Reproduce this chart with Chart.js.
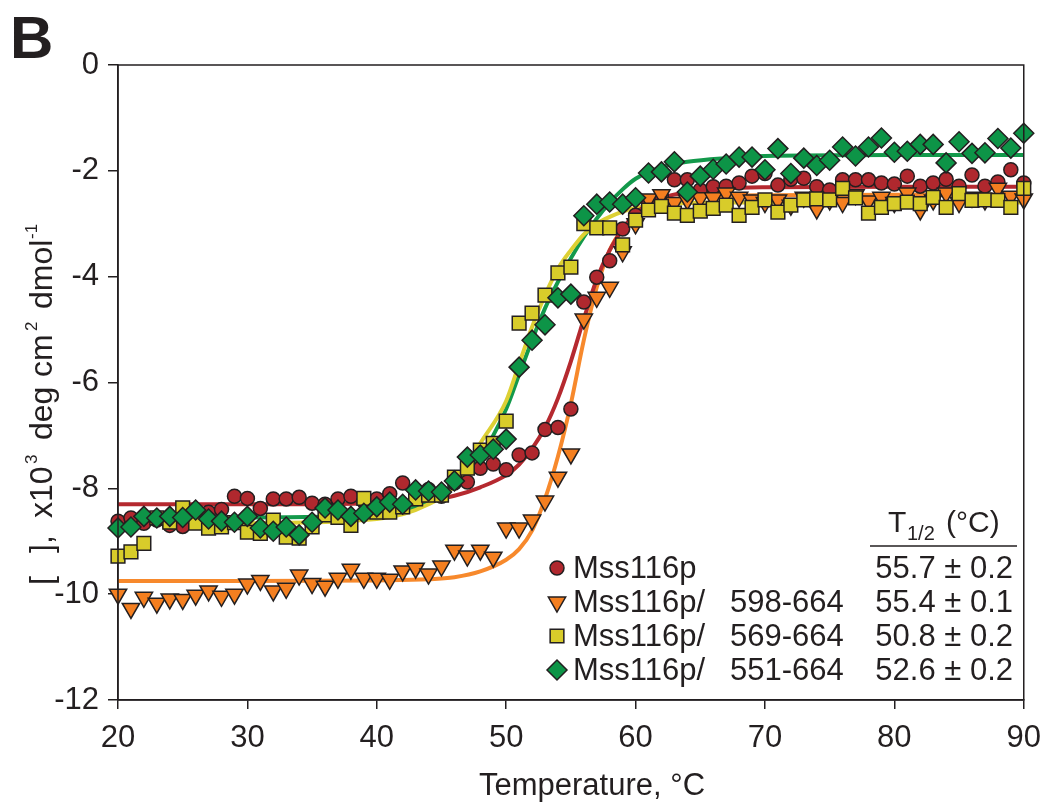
<!DOCTYPE html>
<html>
<head>
<meta charset="utf-8">
<script src="https://cdn.jsdelivr.net/npm/chart.js@4.4.1/dist/chart.umd.min.js"></script>
<style>
html, body { margin: 0; padding: 0; background: #fff; }
#wrap { width: 1052px; height: 804px; }
</style>
</head>
<body>
<div id="wrap"><canvas id="cd-chart" width="1052" height="804"></canvas></div>
<script>
// temperatures, one reading per degree
const temps = [
    20, 21, 22, 23, 24, 25, 26, 27, 28, 29,
    30, 31, 32, 33, 34, 35, 36, 37, 38, 39,
    40, 41, 42, 43, 44, 45, 46, 47, 48, 49,
    50, 51, 52, 53, 54, 55, 56, 57, 58, 59,
    60, 61, 62, 63, 64, 65, 66, 67, 68, 69,
    70, 71, 72, 73, 74, 75, 76, 77, 78, 79,
    80, 81, 82, 83, 84, 85, 86, 87, 88, 89,
    90
];

const mssFull = [
    -8.62, -8.56, -8.66, -8.60, -8.70, -8.72, -8.55, -8.45, -8.40, -8.15,
    -8.19, -8.38, -8.20, -8.20, -8.17, -8.28, -8.30, -8.20, -8.15, -8.25,
    -8.20, -8.10, -7.90, -8.05, -8.02, -8.15, -7.90, -7.88, -7.62, -7.54,
    -7.65, -7.37, -7.33, -6.89, -6.85, -6.50, -4.48, -4.01, -3.70, -3.10,
    -2.84, -2.60, -2.49, -2.17, -2.17, -2.36, -2.30, -2.29, -2.23, -2.10,
    -2.05, -2.27, -2.16, -2.14, -2.30, -2.36, -2.17, -2.17, -2.17, -2.23,
    -2.25, -2.10, -2.29, -2.23, -2.16, -2.29, -2.08, -2.29, -2.21, -1.98,
    -2.23
];

const mss598 = [
    -10.00, -10.27, -10.06, -10.17, -10.09, -10.10, -10.02, -9.94, -10.04, -10.00,
    -9.81, -9.74, -9.94, -9.89, -9.64, -9.80, -9.85, -9.70, -9.53, -9.70,
    -9.70, -9.72, -9.56, -9.51, -9.62, -9.47, -9.17, -9.28, -9.17, -9.30,
    -8.75, -8.75, -8.60, -8.24, -7.79, -7.35, -4.80, -4.39, -4.20, -3.53,
    -3.00, -2.53, -2.45, -2.60, -2.55, -2.51, -2.51, -2.42, -2.50, -2.55,
    -2.60, -2.55, -2.65, -2.50, -2.72, -2.55, -2.60, -2.45, -2.57, -2.50,
    -2.60, -2.42, -2.74, -2.55, -2.42, -2.60, -2.50, -2.55, -2.33, -2.48,
    -2.53
];

const mss569 = [
    -9.28, -9.20, -9.04, -8.56, -8.64, -8.37, -8.66, -8.75, -8.73, -8.65,
    -8.83, -8.85, -8.60, -8.92, -8.94, -8.73, -8.50, -8.55, -8.70, -8.19,
    -8.45, -8.45, -8.35, -8.20, -8.13, -8.13, -7.79, -7.62, -7.28, -7.15,
    -6.73, -4.88, -4.69, -4.35, -3.93, -3.82, -3.00, -3.08, -3.08, -3.40,
    -2.93, -2.74, -2.67, -2.80, -2.84, -2.76, -2.71, -2.65, -2.84, -2.69,
    -2.55, -2.78, -2.65, -2.55, -2.53, -2.55, -2.33, -2.51, -2.80, -2.69,
    -2.62, -2.59, -2.62, -2.50, -2.69, -2.43, -2.56, -2.55, -2.56, -2.69,
    -2.33
];

const mss551 = [
    -8.75, -8.73, -8.53, -8.56, -8.53, -8.55, -8.41, -8.58, -8.62, -8.64,
    -8.53, -8.75, -8.81, -8.73, -8.88, -8.64, -8.37, -8.41, -8.53, -8.47,
    -8.35, -8.26, -8.30, -8.03, -8.05, -8.07, -7.86, -7.41, -7.37, -7.26,
    -7.07, -5.71, -5.20, -4.91, -4.40, -4.33, -2.85, -2.63, -2.59, -2.63,
    -2.51, -2.04, -2.02, -1.83, -2.40, -2.10, -1.97, -1.87, -1.74, -1.74,
    -1.98, -1.58, -2.05, -1.76, -1.90, -1.80, -1.55, -1.72, -1.55, -1.38,
    -1.65, -1.63, -1.50, -1.50, -1.85, -1.45, -1.67, -1.66, -1.39, -1.57,
    -1.29
];

// fitted curves
const fitTemps = [20, 30, 40, 44, 46, 48, 50, 51, 52, 53, 54, 55, 56, 57, 58, 59, 60, 62, 64, 67, 70, 80, 90];
const fitFull = [-8.30, -8.30, -8.28, -8.22, -8.14, -7.98, -7.75, -7.55, -7.25, -6.85, -6.30, -5.60, -4.80, -4.05, -3.50, -3.10, -2.80, -2.52, -2.40, -2.33, -2.31, -2.30, -2.30];
const fit598 = [-9.75, -9.75, -9.74, -9.72, -9.68, -9.57, -9.35, -9.15, -8.80, -8.20, -7.40, -6.40, -5.20, -4.20, -3.50, -3.10, -2.85, -2.60, -2.50, -2.47, -2.46, -2.45, -2.45];
const fit569 = [-8.68, -8.66, -8.58, -8.30, -7.95, -7.15, -6.35, -5.65, -4.95, -4.35, -3.85, -3.50, -3.20, -3.00, -2.87, -2.77, -2.70, -2.64, -2.61, -2.60, -2.60, -2.60, -2.60];
const fit551 = [-8.55, -8.55, -8.50, -8.25, -7.90, -7.40, -6.50, -5.85, -5.20, -4.60, -4.10, -3.65, -3.25, -2.90, -2.60, -2.35, -2.15, -1.93, -1.83, -1.76, -1.72, -1.70, -1.70];

const seriesNames = ["Mss116p", "Mss116p/", "Mss116p/", "Mss116p/"];
const seriesRanges = ["", "598-664", "569-664", "551-664"];
const halfTemps = ["55.7 \u00b1 0.2", "55.4 \u00b1 0.1", "50.8 \u00b1 0.2", "52.6 \u00b1 0.2"];

const xTicks = [20, 30, 40, 50, 60, 70, 80, 90];
const yTicks = [-12, -10, -8, -6, -4, -2, 0];

const xTitle = "Temperature, \u00b0C";
// y title pieces: [text, superscript?, offset along the axis]
const yTitleParts = [
    ["[", false, 0],
    ["],", false, 32],
    ["x10", false, 67],
    ["3", true, 121],
    ["deg", false, 145],
    ["cm", false, 208],
    ["2", true, 254],
    ["dmol", false, 276],
    ["-1", true, 346]
];

const INK = "#231f20";
const FONT = "'Liberation Sans', Arial, 'DejaVu Sans', sans-serif";

function toPoints(xs, ys) {
    return xs.map((x, i) => ({ x: x, y: ys[i] }));
}

function fitLine(values, color) {
    return {
        type: "line",
        data: toPoints(fitTemps, values),
        borderColor: color,
        borderWidth: 4,
        pointRadius: 0,
        cubicInterpolationMode: "monotone",
        fill: false,
        clip: false,
        order: 10
    };
}

function markers(values, color, style, radius, rotation, order) {
    return {
        type: "scatter",
        data: toPoints(temps, values),
        backgroundColor: color,
        borderColor: INK,
        borderWidth: 1.5,
        pointStyle: style,
        pointRadius: radius,
        pointRotation: rotation,
        clip: false,
        order: order
    };
}

const markerSets = [
    markers(mssFull, "#b0282e", "circle", 7, 0, 4),
    markers(mss598, "#f47f20", "triangle", 10, 180, 3),
    markers(mss569, "#d8cc2a", "rect", 9.7, 0, 2),
    markers(mss551, "#0d9447", "rectRot", 10, 0, 1)
];

// frame, panel letter, axis titles and the T1/2 table
const decorPlugin = {
    id: "decor",
    afterDatasetsDraw(chart) {
        const ctx = chart.ctx;
        const a = chart.chartArea;
        ctx.save();

        ctx.strokeStyle = INK;
        ctx.lineWidth = 1.5;
        ctx.strokeRect(a.left, a.top, a.right - a.left, a.bottom - a.top);

        ctx.fillStyle = INK;
        ctx.textBaseline = "alphabetic";
        ctx.textAlign = "left";
        ctx.font = "bold 60px " + FONT;
        ctx.fillText("B", 10, 58);

        // x title
        ctx.font = "31px " + FONT;
        ctx.textAlign = "center";
        ctx.fillText(xTitle, 592, 795);

        // y title, rotated
        ctx.save();
        ctx.translate(52, 585);
        ctx.rotate(-Math.PI / 2);
        ctx.textAlign = "left";
        yTitleParts.forEach(([txt, sup, off]) => {
            if (sup) {
                ctx.font = "17px " + FONT;
                ctx.fillText(txt, off, -15);
            } else {
                ctx.font = "32px " + FONT;
                ctx.fillText(txt, off, 0);
            }
        });
        ctx.restore();

        // table header
        ctx.textAlign = "left";
        ctx.font = "30px " + FONT;
        ctx.fillText("T", 888, 532);
        ctx.font = "20px " + FONT;
        ctx.fillText("1/2", 907, 540);
        ctx.font = "30px " + FONT;
        ctx.fillText("(\u00b0C)", 946, 532);
        ctx.beginPath();
        ctx.moveTo(870, 546);
        ctx.lineTo(1017, 546);
        ctx.stroke();

        const rowY = [568, 602, 636, 670];
        ctx.textBaseline = "middle";
        markerSets.forEach((ds, i) => {
            const y = rowY[i];
            ctx.fillStyle = ds.backgroundColor;
            ctx.strokeStyle = INK;
            ctx.lineWidth = ds.borderWidth;
            Chart.helpers.drawPoint(ctx, {
                pointStyle: ds.pointStyle,
                radius: ds.pointRadius,
                rotation: ds.pointRotation,
                borderWidth: ds.borderWidth
            }, 557, y);

            ctx.fillStyle = INK;
            ctx.font = "31px " + FONT;
            ctx.textAlign = "left";
            ctx.fillText(seriesNames[i], 573, y + 1);
            if (seriesRanges[i]) {
                ctx.fillText(seriesRanges[i], 730, y + 1);
            }
            ctx.textAlign = "right";
            ctx.fillText(halfTemps[i], 1013, y + 1);
        });

        ctx.restore();
    }
};

const ctx = document.getElementById("cd-chart").getContext("2d");

const chart = new Chart(ctx, {
    type: "scatter",
    data: {
        datasets: [
            fitLine(fitFull, "#b5292f"),
            fitLine(fit598, "#f7892c"),
            fitLine(fit569, "#ddd034"),
            fitLine(fit551, "#13994b"),
            ...markerSets
        ]
    },
    options: {
        responsive: false,
        animation: false,
        layout: {
            padding: { left: 0, top: 65, right: 25, bottom: 0 }
        },
        plugins: {
            legend: { display: false },
            tooltip: { enabled: false }
        },
        scales: {
            x: {
                type: "linear",
                min: 20,
                max: 90,
                afterBuildTicks: (scale) => {
                    scale.ticks = xTicks.map(v => ({ value: v }));
                },
                afterFit: (scale) => {
                    scale.height = 104;
                },
                grid: {
                    drawOnChartArea: false,
                    drawTicks: true,
                    tickLength: 9,
                    color: INK,
                    lineWidth: 1.5
                },
                border: { display: true, color: INK, width: 1.5 },
                ticks: {
                    color: INK,
                    padding: 11,
                    font: { family: FONT, size: 31 }
                },
                title: { display: false }
            },
            y: {
                type: "linear",
                min: -12,
                max: 0,
                afterBuildTicks: (scale) => {
                    scale.ticks = yTicks.map(v => ({ value: v }));
                },
                afterFit: (scale) => {
                    scale.width = 118;
                },
                grid: {
                    drawOnChartArea: false,
                    drawTicks: true,
                    tickLength: 10,
                    color: INK,
                    lineWidth: 1.5
                },
                border: { display: true, color: INK, width: 1.5 },
                ticks: {
                    color: INK,
                    padding: 9,
                    font: { family: FONT, size: 31 }
                },
                title: { display: false }
            }
        }
    },
    plugins: [decorPlugin]
});
</script>
</body>
</html>
